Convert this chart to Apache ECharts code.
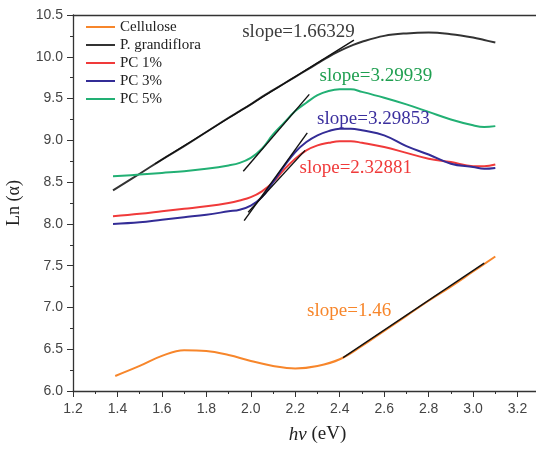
<!DOCTYPE html>
<html>
<head>
<meta charset="utf-8">
<script src="https://cdn.jsdelivr.net/npm/echarts@6/dist/echarts.min.js"></script>
<style>
  html, body { margin: 0; padding: 0; background: #fff; }
  #chart { width: 536px; height: 450px; }
</style>
</head>
<body>
<div id="chart"></div>
<script>
// photon energy (eV) and Ln(alpha)
var hvCellulose = [1.39, 1.5, 1.6, 1.7, 1.8, 1.9, 2.0, 2.1, 2.2, 2.3, 2.4, 2.5, 2.6, 2.7, 2.8, 2.9, 3.0, 3.1];
var lnCellulose = [6.18, 6.30, 6.42, 6.487, 6.478, 6.43, 6.36, 6.30, 6.27, 6.30, 6.38, 6.54, 6.72, 6.90, 7.08, 7.25, 7.43, 7.61];

var hvSamples = [1.38, 1.5, 1.6, 1.7, 1.8, 1.9, 1.95, 2.0, 2.05, 2.1, 2.15, 2.2, 2.25, 2.3, 2.35, 2.4, 2.45, 2.5, 2.6, 2.7, 2.8, 2.9, 3.0, 3.05, 3.1];
var lnGrandiflora = [8.40, 8.60, 8.77, 8.93, 9.10, 9.27, 9.35, 9.43, 9.52, 9.60, 9.68, 9.76, 9.84, 9.92, 10.00, 10.07, 10.13, 10.18, 10.25, 10.28, 10.29, 10.27, 10.23, 10.20, 10.17];
var lnPC1 = [8.09, 8.12, 8.15, 8.18, 8.21, 8.25, 8.28, 8.32, 8.39, 8.50, 8.65, 8.78, 8.88, 8.94, 8.97, 8.99, 8.99, 8.97, 8.92, 8.85, 8.78, 8.74, 8.69, 8.69, 8.71];
var lnPC3 = [8.00, 8.02, 8.05, 8.08, 8.11, 8.15, 8.17, 8.22, 8.32, 8.50, 8.69, 8.86, 8.98, 9.06, 9.11, 9.14, 9.14, 9.12, 9.06, 8.93, 8.83, 8.72, 8.68, 8.66, 8.67];
var lnPC5 = [8.57, 8.59, 8.61, 8.63, 8.66, 8.70, 8.73, 8.79, 8.90, 9.07, 9.21, 9.35, 9.45, 9.54, 9.59, 9.61, 9.61, 9.58, 9.51, 9.43, 9.34, 9.25, 9.18, 9.16, 9.17];

var seriesNames = ['Cellulose', 'P. grandiflora', 'PC 1%', 'PC 3%', 'PC 5%'];
var seriesColors = ['#f7862b', '#333333', '#f03a3a', '#332c96', '#22b074'];

// tangent line end points [hv, ln]
var tangentCellulose = [[2.415, 6.40], [3.05, 7.53]];
var tangentGrandiflora = [[1.57, 8.72], [2.464, 10.20]];
var tangentPC1 = [[1.988, 8.14], [2.244, 8.88]];
var tangentPC3 = [[1.97, 8.04], [2.254, 9.09]];
var tangentPC5 = [[1.966, 8.63], [2.263, 9.55]];

// slope labels and their anchor (left edge, middle) in data units
var slopeTexts = ['slope=1.46', 'slope=1.66329', 'slope=2.32881', 'slope=3.29853', 'slope=3.29939'];
var slopeAnchors = [[2.251, 6.954], [1.959, 10.30], [2.217, 8.665], [2.296, 9.26], [2.307, 9.77]];
var labelColors = ['#f7862b', '#3c3c3c', '#f03a3a', '#3b2f9e', '#1f9f50'];

var xTicks = { min: 1.2, max: 3.4, step: 0.2 };
var yTicks = { min: 6.0, max: 10.5, step: 0.5 };

function pairs(xs, ys) {
    var out = [];
    for (var i = 0; i < xs.length; i++) out.push([xs[i], ys[i]]);
    return out;
}

var curves = [
    pairs(hvCellulose, lnCellulose),
    pairs(hvSamples, lnGrandiflora),
    pairs(hvSamples, lnPC1),
    pairs(hvSamples, lnPC3),
    pairs(hvSamples, lnPC5)
];
var tangents = [tangentCellulose, tangentGrandiflora, tangentPC1, tangentPC3, tangentPC5];

var serif = '"Liberation Serif", "DejaVu Serif", serif';
var sans = '"Liberation Sans", Arial, sans-serif';

var series = [];
for (var i = 0; i < curves.length; i++) {
    series.push({
        name: seriesNames[i],
        type: 'line',
        data: curves[i],
        smooth: 0.4,
        symbol: 'none',
        lineStyle: { color: seriesColors[i], width: 2 },
        itemStyle: { color: seriesColors[i] },
        z: 2,
        markPoint: {
            symbol: 'circle',
            symbolSize: 1,
            itemStyle: { color: 'rgba(0,0,0,0)' },
            label: {
                show: true,
                position: 'right',
                distance: 0,
                formatter: slopeTexts[i],
                color: labelColors[i],
                fontFamily: serif,
                fontSize: 19
            },
            data: [{ coord: slopeAnchors[i] }]
        }
    });
}
for (var j = 0; j < tangents.length; j++) {
    series.push({
        type: 'line',
        data: tangents[j],
        symbol: 'none',
        lineStyle: { color: '#111', width: 1.4 },
        z: 3,
        silent: true
    });
}

var axisColor = '#333';
var myChart = echarts.init(document.getElementById('chart'));
var option = {
    backgroundColor: '#fff',
    animation: false,
    grid: { left: 73, right: -26, top: 15, bottom: 59, outerBoundsMode: 'none', containLabel: false },
    legend: {
        orient: 'vertical',
        left: 81,
        top: 14,
        icon: 'rect',
        data: seriesNames,
        itemWidth: 29,
        itemHeight: 2,
        itemGap: 2,
        textStyle: { fontFamily: serif, fontSize: 15, color: '#222', lineHeight: 16 }
    },
    xAxis: [{
        type: 'value',
        min: xTicks.min,
        max: xTicks.max,
        interval: xTicks.step,
        name: '{i|hν} (eV)',
        nameLocation: 'middle',
        nameGap: 34,
        nameMoveOverlap: false,
        nameTextStyle: {
            fontFamily: serif, fontSize: 19, color: '#222',
            rich: { i: { fontFamily: serif, fontSize: 19, fontStyle: 'italic', color: '#222' } }
        },
        axisLine: { lineStyle: { color: axisColor, width: 1.3 } },
        axisTick: { inside: false, length: 6, lineStyle: { color: axisColor } },
        minorTick: { show: true, splitNumber: 2, length: 3, lineStyle: { color: axisColor } },
        splitLine: { show: false },
        axisLabel: {
            margin: 11,
            fontFamily: sans, fontSize: 14, color: '#444',
            formatter: function (v) { return v.toFixed(1); }
        }
    }, {
        type: 'value',
        position: 'top',
        min: xTicks.min,
        max: xTicks.max,
        axisLine: { show: true, onZero: false, lineStyle: { color: axisColor, width: 1.3 } },
        axisTick: { show: false },
        axisLabel: { show: false },
        splitLine: { show: false }
    }],
    yAxis: {
        type: 'value',
        min: yTicks.min,
        max: yTicks.max,
        interval: yTicks.step,
        name: 'Ln (α)',
        nameLocation: 'middle',
        nameGap: 50,
        nameMoveOverlap: false,
        nameTextStyle: { fontFamily: serif, fontSize: 18, color: '#222' },
        axisLine: { show: true, lineStyle: { color: axisColor, width: 1.3 } },
        axisTick: { inside: false, length: 6, lineStyle: { color: axisColor } },
        minorTick: { show: true, splitNumber: 2, length: 3, lineStyle: { color: axisColor } },
        splitLine: { show: false },
        axisLabel: {
            margin: 10,
            fontFamily: sans, fontSize: 14, color: '#444',
            formatter: function (v) { return v.toFixed(1); }
        }
    },
    series: series
};
myChart.setOption(option);
</script>
</body>
</html>
